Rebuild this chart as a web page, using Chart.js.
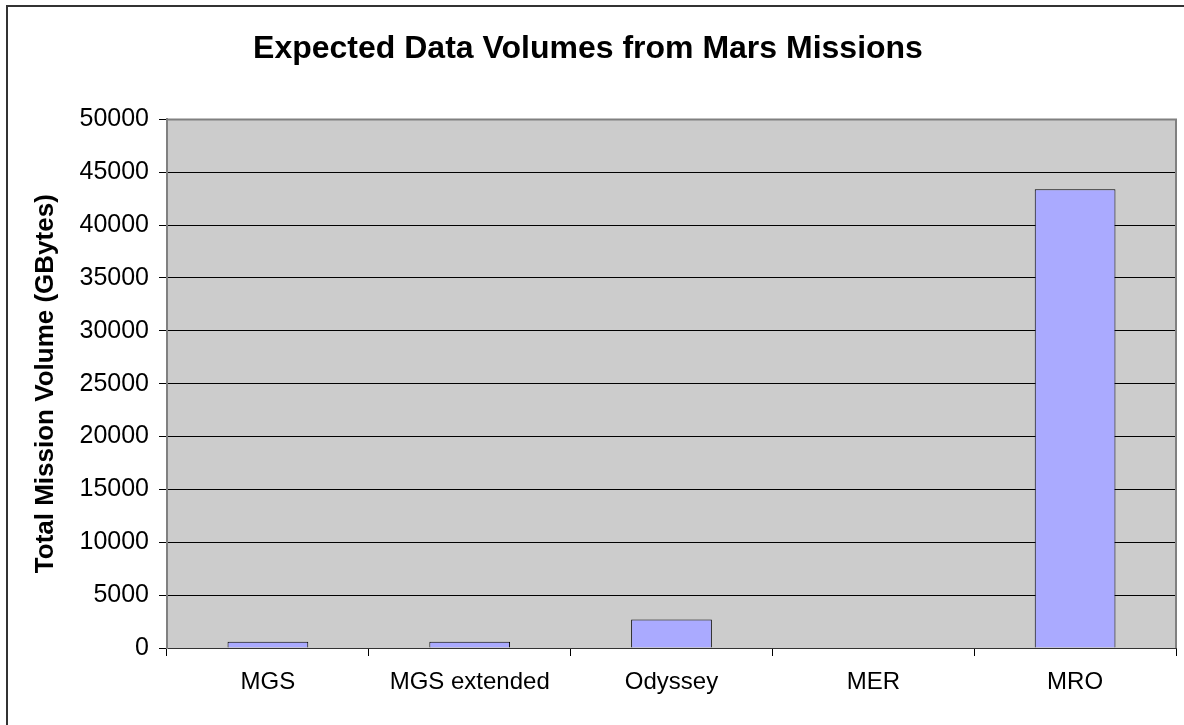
<!DOCTYPE html>
<html>
<head>
<meta charset="utf-8">
<script src="https://cdn.jsdelivr.net/npm/chart.js@4/dist/chart.umd.min.js"></script>
<style>
  html, body { margin: 0; padding: 0; background: #fff; }
  canvas { display: block; }
</style>
</head>
<body>
<canvas id="marsChart" width="1184" height="725"></canvas>
<script>
// chart data
var missions = ["MGS", "MGS extended", "Odyssey", "MER", "MRO"];
var volumes = [600, 600, 2700, 0, 43400]; // GBytes
var yMin = 0, yMax = 50000, yStep = 5000;

// paints the white page, the outer frame and the grey plot area
var chartFrame = {
    id: "chartFrame",
    beforeDraw: function (chart) {
        var c = chart.ctx, a = chart.chartArea;
        c.save();
        c.fillStyle = "#ffffff";
        c.fillRect(0, 0, chart.width, chart.height);
        c.strokeStyle = "#333333";
        c.lineWidth = 2;
        c.beginPath();
        c.moveTo(7, chart.height);
        c.lineTo(7, 6);
        c.lineTo(chart.width, 6);
        c.stroke();
        c.fillStyle = "#cccccc";
        c.fillRect(a.left, a.top, a.right - a.left, a.bottom - a.top);
        c.restore();
    },
    afterDraw: function (chart) {
        var c = chart.ctx, a = chart.chartArea;
        c.save();
        c.strokeStyle = "#808080";
        c.lineWidth = 2;
        c.beginPath();
        c.moveTo(a.left, a.top);
        c.lineTo(a.right, a.top);
        c.lineTo(a.right, a.bottom);
        c.stroke();
        c.restore();
    }
};

document.addEventListener("DOMContentLoaded", function () {
    var ctx = document.getElementById("marsChart").getContext("2d");
    Chart.defaults.font.family = "'Liberation Sans', Arial, sans-serif";
    Chart.defaults.color = "#000";

    new Chart(ctx, {
        type: "bar",
        data: {
            labels: missions,
            datasets: [{
                label: "Total Mission Volume",
                data: volumes,
                backgroundColor: "#aaaaff",
                borderColor: "#000000",
                borderWidth: 1,
                categoryPercentage: 1.0,
                barPercentage: 0.4
            }]
        },
        plugins: [chartFrame],
        options: {
            responsive: false,
            animation: false,
            layout: { padding: { left: 0, right: 8, top: 0, bottom: 0 } },
            plugins: {
                legend: { display: false },
                tooltip: { enabled: false },
                title: {
                    display: true,
                    text: "Expected Data Volumes from Mars Missions",
                    font: { size: 32, weight: "bold" },
                    color: "#000",
                    padding: { top: 30, bottom: 51 }
                }
            },
            scales: {
                x: {
                    grid: {
                        offset: true,
                        drawOnChartArea: false,
                        drawTicks: true,
                        tickLength: 8,
                        color: "#000"
                    },
                    border: { display: true, color: "#333333", width: 1 },
                    ticks: { font: { size: 24 }, padding: 12, maxRotation: 0 },
                    afterFit: function (scale) { scale.height = 77; }
                },
                y: {
                    min: yMin,
                    max: yMax,
                    ticks: {
                        stepSize: yStep,
                        font: { size: 25 },
                        padding: 10,
                        callback: function (v) { return String(v); }
                    },
                    grid: {
                        color: function (c) {
                            return c.tick && c.tick.value === yMax ? "#808080" : "#000";
                        },
                        tickColor: "#000",
                        tickLength: 8,
                        lineWidth: 1
                    },
                    border: { display: true, color: "#808080", width: 2 },
                    title: {
                        display: true,
                        text: "Total Mission Volume (GBytes)",
                        font: { size: 26, weight: "bold" },
                        color: "#000",
                        padding: { top: 30, bottom: 0 }
                    },
                    afterFit: function (scale) { scale.width = 167; }
                }
            }
        }
    });
});
</script>
</body>
</html>
